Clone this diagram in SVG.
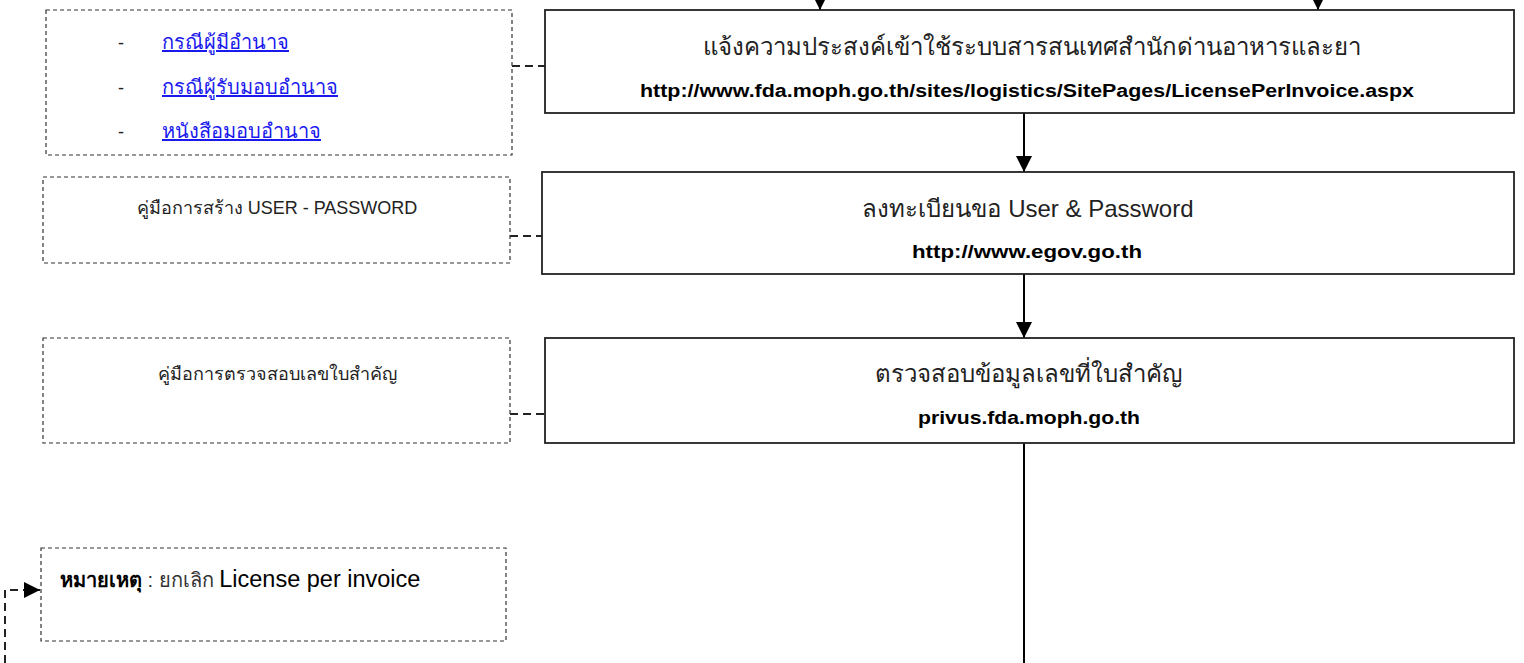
<svg xmlns="http://www.w3.org/2000/svg" width="1524" height="663" viewBox="0 0 1524 663">
<style>
.main{fill:#fff;stroke:#222;stroke-width:1.8}
.dbox{fill:#fff;stroke:#333;stroke-width:1.2;stroke-dasharray:4 3}
.conn{fill:none;stroke:#000;stroke-width:2}
.dconn{fill:none;stroke:#222;stroke-width:2;stroke-dasharray:8 5}
.th{font-family:"Liberation Sans","Noto Sans",sans-serif;font-size:24px;fill:#222}
.url{font-family:"Liberation Sans",sans-serif;font-size:18px;font-weight:bold;fill:#000}
.lnk{font-family:"Liberation Sans","Noto Sans",sans-serif;font-size:20px;fill:#1a1aee;text-decoration:underline}
.dash{font-family:"Liberation Sans",sans-serif;font-size:18px;fill:#222}
</style>
<defs>
<marker id="ah" markerWidth="8" markerHeight="8" refX="8" refY="4" orient="auto" markerUnits="strokeWidth">
<path d="M0,0 L8,4 L0,8 Z" fill="#000"/>
</marker>
</defs>
<g id="connectors">
<line class="conn" x1="820" y1="-20" x2="820" y2="10" marker-end="url(#ah)"/>
<line class="conn" x1="1318" y1="-20" x2="1318" y2="10" marker-end="url(#ah)"/>
<line class="conn" x1="1024" y1="113" x2="1024" y2="172" marker-end="url(#ah)"/>
<line class="conn" x1="1024" y1="274" x2="1024" y2="338" marker-end="url(#ah)"/>
<line class="conn" x1="1024" y1="443" x2="1024" y2="663" stroke-width="3"/>
<line class="dconn" x1="512" y1="66" x2="545" y2="66"/>
<line class="dconn" x1="510" y1="236" x2="542" y2="236"/>
<line class="dconn" x1="510" y1="414" x2="545" y2="414"/>
<path class="dconn" d="M5,663 L5,590 L40,590" marker-end="url(#ah)"/>
</g>
<g id="n-dash1">
<rect class="dbox" x="46" y="10" width="466" height="145"/>
<text class="dash" x="118" y="49">-</text>
<text class="lnk" x="162" y="49">กรณีผู้มีอำนาจ</text>
<text class="dash" x="118" y="94">-</text>
<text class="lnk" x="162" y="94">กรณีผู้รับมอบอำนาจ</text>
<text class="dash" x="118" y="138">-</text>
<text class="lnk" x="162" y="138">หนังสือมอบอำนาจ</text>
</g>
<g id="n-main1">
<rect class="main" x="545" y="10" width="969" height="103"/>
<text class="th" x="1032" y="55" text-anchor="middle">แจ้งความประสงค์เข้าใช้ระบบสารสนเทศสำนักด่านอาหารและยา</text>
<text class="url" x="640" y="97" textLength="774" lengthAdjust="spacingAndGlyphs">http://www.fda.moph.go.th/sites/logistics/SitePages/LicensePerInvoice.aspx</text>
</g>
<g id="n-dash2">
<rect class="dbox" x="43" y="177" width="467" height="86"/>
<text class="dash" x="277" y="214" text-anchor="middle" font-size="19">คู่มือการสร้าง USER - PASSWORD</text>
</g>
<g id="n-main2">
<rect class="main" x="542" y="172" width="972" height="102"/>
<text class="th" x="1028" y="217" text-anchor="middle">ลงทะเบียนขอ User &amp;  Password</text>
<text class="url" x="912" y="258" textLength="230" lengthAdjust="spacingAndGlyphs">http://www.egov.go.th</text>
</g>
<g id="n-dash3">
<rect class="dbox" x="43" y="338" width="467" height="105"/>
<text class="dash" x="277" y="380" text-anchor="middle" font-size="19">คู่มือการตรวจสอบเลขใบสำคัญ</text>
</g>
<g id="n-main3">
<rect class="main" x="545" y="338" width="969" height="105"/>
<text class="th" x="1028" y="382" text-anchor="middle">ตรวจสอบข้อมูลเลขที่ใบสำคัญ</text>
<text class="url" x="918" y="424" textLength="222" lengthAdjust="spacingAndGlyphs">privus.fda.moph.go.th</text>
</g>
<g id="n-note">
<rect class="dbox" x="41" y="548" width="465" height="93"/>
<text x="60" y="587" style="font-family:'Liberation Sans','Noto Sans',sans-serif;font-size:20px;fill:#000"><tspan font-weight="bold">หมายเหตุ</tspan><tspan fill="#333"> : ยกเลิก </tspan><tspan font-size="23.5">License per invoice</tspan></text>
</g>
</svg>
